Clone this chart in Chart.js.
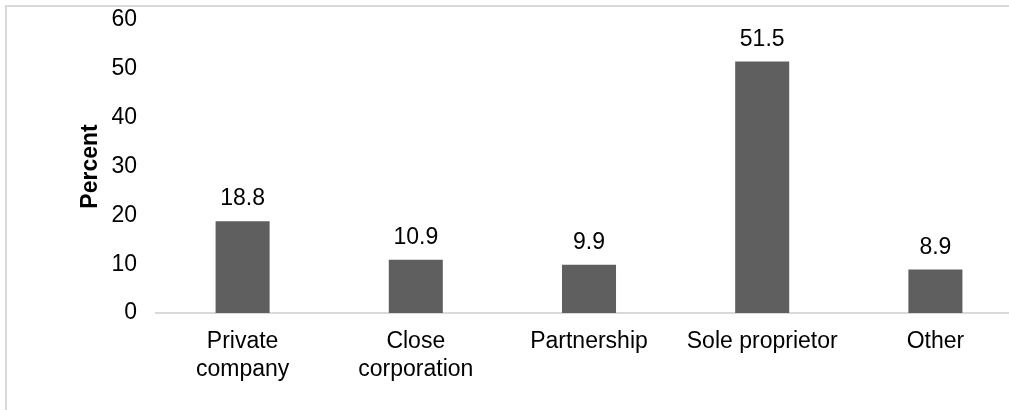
<!DOCTYPE html>
<html>
<head>
<meta charset="utf-8">
<script src="https://cdn.jsdelivr.net/npm/chart.js@4/dist/chart.umd.min.js"></script>
<style>
  html, body { margin: 0; padding: 0; background: #fff; overflow: hidden; }
  .frame {
    position: absolute; left: 5px; top: 5px; width: 1100px; height: 500px;
    border: 2px solid #d9d9d9; box-sizing: border-box;
  }
  #ownershipChart { position: absolute; left: 0; top: 0; }
</style>
</head>
<body>
<div class="frame"></div>
<canvas id="ownershipChart" width="1022" height="410"></canvas>
<script>
const categories = [["Private", "company"], ["Close", "corporation"], "Partnership", "Sole proprietor", "Other"];
const percentValues = [18.8, 10.9, 9.9, 51.5, 8.9];
const yTicks = [0, 10, 20, 30, 40, 50, 60];

const FONT = "'Liberation Sans', Arial, sans-serif";

// value labels above each bar
const barValueLabels = {
  id: "barValueLabels",
  afterDatasetsDraw(chart) {
    const ctx = chart.ctx;
    const meta = chart.getDatasetMeta(0);
    ctx.save();
    ctx.font = "23px " + FONT;
    ctx.fillStyle = "#000";
    ctx.textAlign = "center";
    ctx.textBaseline = "alphabetic";
    meta.data.forEach((bar, i) => {
      ctx.fillText(percentValues[i].toFixed(1), bar.x, bar.y - 16);
    });
    ctx.restore();
  },
};

document.addEventListener("DOMContentLoaded", () => {
  const ctx = document.getElementById("ownershipChart").getContext("2d");
  new Chart(ctx, {
    type: "bar",
    data: {
      labels: categories,
      datasets: [
        {
          label: "Percent",
          data: percentValues,
          backgroundColor: "#5f5f5f",
          categoryPercentage: 1,
          barPercentage: 0.312,
        },
      ],
    },
    options: {
      responsive: false,
      animation: false,
      layout: { padding: { top: 20, right: 0, bottom: 0, left: 0 } },
      plugins: {
        legend: { display: false },
        tooltip: { enabled: false },
      },
      scales: {
        x: {
          grid: { display: false, drawTicks: false },
          border: { display: true, color: "#d9d9d9", width: 2 },
          ticks: {
            color: "#000",
            font: { family: FONT, size: 23 },
            padding: 15,
            maxRotation: 0,
            autoSkip: false,
          },
          afterFit: (scale) => { scale.height = 97; },
        },
        y: {
          min: 0,
          max: 60,
          grid: { display: false, drawTicks: false },
          border: { display: false },
          afterBuildTicks: (scale) => {
            scale.ticks = yTicks.map((v) => ({ value: v }));
          },
          ticks: {
            color: "#000",
            font: { family: FONT, size: 23 },
            padding: 19,
          },
          title: {
            display: true,
            text: "Percent",
            color: "#000",
            font: { family: FONT, size: 23, weight: "bold" },
            padding: { top: 77, bottom: 0 },
          },
          afterFit: (scale) => {
            scale.width = 156;
            scale.paddingTop = 0;
            scale.paddingBottom = 0;
          },
        },
      },
    },
    plugins: [barValueLabels],
  });
});
</script>
</body>
</html>
